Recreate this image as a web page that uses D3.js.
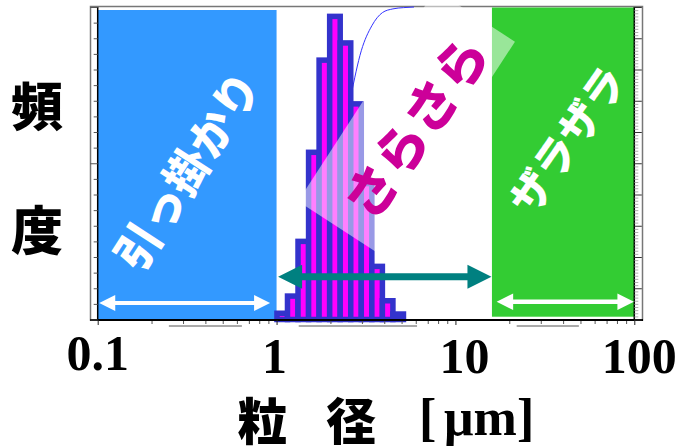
<!DOCTYPE html>
<html><head><meta charset="utf-8">
<script src="https://cdn.jsdelivr.net/npm/d3@7/dist/d3.min.js"></script>
<style>body{margin:0;background:#fff}svg{display:block}</style>
</head><body>
<script>
// ---- data ----
const binEdges = [1.005,1.151,1.318,1.510,1.729,1.981,2.269,2.599,2.976,3.409,3.905,4.472,5.122,5.867]; // µm
const frequency = [0.4,1.5,5.0,10.7,16.6,19.4,17.7,13.8,8.7,3.4,1.2,0.35,0]; // % per bin
const cumulative = [0,0.4,1.9,6.9,17.6,34.2,53.6,71.3,86.0,94.0,98.2,99.4,99.8,100]; // % at bin edges
const xTickValues = [0.1,1,10,100];
const xTickLabels = ["0.1","1","10","100"];
const regionNames = ["引っ掛かり","さらさら","ザラザラ"];
const yTitleChars = ["頻","度"];
const xTitleParts = ["粒","径","[","μm","]"];
const regionRanges = [[0.1,1],[16.0,100]];       // µm
const arrowRanges = [[0.102,0.92],[1.02,15.9],[17.0,99.5]]; // µm
const underlineRanges = [[0.25,0.64],[1.33,6.1],[22,49]];  // µm

const W = 679, H = 446;
const svg = d3.select("body").append("svg").attr("width",W).attr("height",H);

const x = d3.scaleLog().domain([0.1,100]).range([97.7,634.3]);
const yF = d3.scaleLinear().domain([0,20]).range([319.5,7]);
const yC = d3.scaleLinear().domain([0,100]).range([319.5,7]);

const L = x(0.1), R = x(100), T = 7, B = 319.5;

// frame
svg.append("rect").attr("x",90.5).attr("y",6.5).attr("width",552).attr("height",313.5)
  .attr("fill","none").attr("stroke","#777").attr("stroke-width",1.5);

// region boxes
svg.append("rect").attr("x",x(regionRanges[0][0])).attr("y",10)
  .attr("width",x(regionRanges[0][1])-x(regionRanges[0][0])).attr("height",B-10)
  .attr("fill","#3399ff");
svg.append("rect").attr("x",x(regionRanges[1][0])).attr("y",7.5)
  .attr("width",x(regionRanges[1][1])-x(regionRanges[1][0])).attr("height",316.7-7.5)
  .attr("fill","#33cc33");

// cumulative curve (behind bars)
const line = d3.line().x((d,i)=>x(binEdges[i])).y(d=>yC(d)).curve(d3.curveMonotoneX);
svg.append("path").datum(cumulative).attr("d",line).attr("fill","none")
  .attr("stroke","#3333ff").attr("stroke-width",1);

// bars
const bars = frequency.map((v,i)=>({x0:binEdges[i],x1:binEdges[i+1],v}));
svg.append("g").selectAll("rect").data(bars.filter(d=>d.v>0)).join("rect")
  .attr("x",d=>x(d.x0)).attr("width",d=>x(d.x1)-x(d.x0))
  .attr("y",d=>yF(d.v)).attr("height",d=>yF(0)-yF(d.v))
  .attr("fill","#ff00ff").attr("stroke","#3333cc").attr("stroke-width",5.5);

// translucent text box behind さらさら
svg.append("g").attr("transform","translate(406.5,121.5) rotate(-57)")
  .append("rect").attr("x",-126).attr("y",-47.5).attr("width",252).attr("height",95)
  .attr("fill","#fff").attr("fill-opacity",0.5);

// axes
const gx = svg.append("g").attr("transform",`translate(0,${B+0.5})`);
const minorX = [];
[0.1,1,10].forEach(d=>{for(let k=2;k<10;k++) minorX.push(d*k);});
gx.append("g").call(d3.axisBottom(x).tickValues(minorX).tickSize(4).tickFormat(""))
  .call(g=>g.select(".domain").remove())
  .call(g=>g.selectAll("line").attr("stroke","#555"));
gx.append("g").call(d3.axisBottom(x).tickValues(xTickValues).tickSize(5).tickFormat(""))
  .call(g=>g.select(".domain").attr("d",`M90,0H643`).attr("stroke","#000").attr("stroke-width",2))
  .call(g=>g.selectAll("line").attr("stroke","#222"));
// tick labels
const labelNudge = [[0,-3],[-2,0],[9,0],[5,0]];
svg.append("g").selectAll("text").data(xTickValues).join("text")
  .attr("x",(d,i)=>x(d)+labelNudge[i][0]).attr("y",(d,i)=>373+labelNudge[i][1])
  .attr("text-anchor","middle").attr("font-family","'Liberation Serif','Times New Roman',serif")
  .attr("font-weight","bold").attr("font-size",50)
  .text((d,i)=>xTickLabels[i]);

// left axis (frequency)
const gl = svg.append("g").attr("transform",`translate(${L},0)`);
gl.call(d3.axisLeft(yF).tickValues(d3.range(0,21)).tickSize(4).tickFormat(""))
  .call(g=>g.select(".domain").attr("d",`M0,${T}V${B}`).attr("stroke","#000").attr("stroke-width",1.5))
  .call(g=>g.selectAll(".tick line").attr("stroke","#555")
      .attr("x2",d=>d%10===0?-7.5:-4));
// right axis (cumulative)
const gr = svg.append("g").attr("transform",`translate(${R},0)`);
gr.call(d3.axisRight(yC).tickValues(d3.range(0,101)).tickSize(4).tickFormat(""))
  .call(g=>g.select(".domain").attr("d",`M0,${T}V${B}`).attr("stroke","#000").attr("stroke-width",1.5))
  .call(g=>g.selectAll(".tick line").attr("stroke",d=>d%10===0?"#333":"#999")
      .attr("stroke-width",d=>d%10===0?1:0.8).attr("x2",d=>d%10===0?7.5:4));

// underline decorations below x-axis
svg.append("g").selectAll("line").data(underlineRanges).join("line")
  .attr("x1",d=>x(d[0])).attr("x2",d=>x(d[1])).attr("y1",326).attr("y2",326)
  .attr("stroke","#555").attr("stroke-width",1);

// arrows
function dblArrow(x1,x2,y,t,hl,hh,color){
  const p = [[x1,y],[x1+hl,y-hh],[x1+hl,y-t/2],[x2-hl,y-t/2],[x2-hl,y-hh],[x2,y],
             [x2-hl,y+hh],[x2-hl,y+t/2],[x1+hl,y+t/2],[x1+hl,y+hh]];
  svg.append("path").attr("d","M"+p.map(q=>q.join(",")).join("L")+"Z").attr("fill",color);
}
dblArrow(x(arrowRanges[0][0]),x(arrowRanges[0][1]),303,4,16,8,"#fff");
dblArrow(x(arrowRanges[2][0]),x(arrowRanges[2][1]),301.7,4.5,16.5,8.3,"#fff");
dblArrow(x(arrowRanges[1][0]),x(arrowRanges[1][1]),276.7,7,24,12,"#008080");

// region labels
const cjk = "'Noto Sans CJK JP','Noto Sans CJK SC',sans-serif";
const labelPos = [[185,169.5,-57,45,"#fff"],[413.5,126,-55,52,"#cc0099"],[565,138.5,-55,42,"#fff"]];
svg.append("g").selectAll("text").data(regionNames).join("text")
  .attr("transform",(d,i)=>`translate(${labelPos[i][0]},${labelPos[i][1]}) rotate(${labelPos[i][2]})`)
  .attr("text-anchor","middle").attr("dominant-baseline","central")
  .attr("font-family",cjk).attr("font-weight",900)
  .attr("font-size",(d,i)=>labelPos[i][3]).attr("fill",(d,i)=>labelPos[i][4])
  .text(d=>d);

// y title
svg.append("g").selectAll("text").data(yTitleChars).join("text")
  .attr("x",37).attr("y",(d,i)=>[103,227][i])
  .attr("text-anchor","middle").attr("dominant-baseline","central")
  .attr("font-family",cjk).attr("font-weight",900).attr("font-size",52).attr("fill","#000")
  .text(d=>d);

// x title
svg.append("text").attr("x",262.5).attr("y",418).attr("text-anchor","middle").attr("dominant-baseline","central")
  .attr("font-family",cjk).attr("font-weight",900).attr("font-size",50).text(xTitleParts[0]);
svg.append("text").attr("x",351).attr("y",418).attr("text-anchor","middle").attr("dominant-baseline","central")
  .attr("font-family",cjk).attr("font-weight",900).attr("font-size",50).text(xTitleParts[1]);
const serif = "'Liberation Serif','Times New Roman',serif";
[[419,xTitleParts[2]],[444,xTitleParts[3]],[517,xTitleParts[4]]].forEach(([px,t])=>{
  svg.append("text").attr("x",px).attr("y",435).attr("font-family",serif).attr("font-weight","bold")
    .attr("font-size",52).text(t);
});
</script>
</body></html>
